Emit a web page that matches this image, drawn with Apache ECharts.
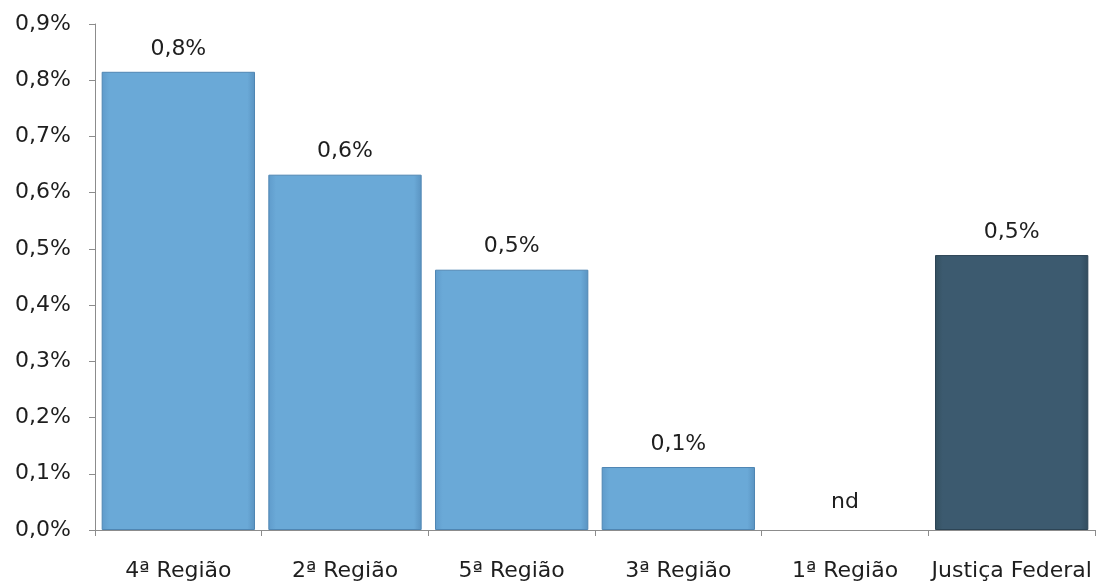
<!DOCTYPE html>
<html>
<head>
<meta charset="utf-8">
<script src="https://cdn.jsdelivr.net/npm/echarts@6/dist/echarts.min.js"></script>
<style>
  html, body { margin: 0; padding: 0; background: #fff; }
  #main { width: 1097px; height: 585px; }
</style>
</head>
<body>
<div id="main"></div>
<script>
const categories = ["4ª Região", "2ª Região", "5ª Região", "3ª Região", "1ª Região", "Justiça Federal"];
const values = [0.815, 0.632, 0.463, 0.112, null, 0.489];
const yTicks = [0, 0.1, 0.2, 0.3, 0.4, 0.5, 0.6, 0.7, 0.8, 0.9];

const fmt = v => v.toFixed(1).replace(".", ",") + "%";
const font = "DejaVu Sans";
const lightBar = new echarts.graphic.LinearGradient(0, 0, 1, 0, [
  { offset: 0, color: "#5f9bcb" },
  { offset: 0.05, color: "#6aa9d7" },
  { offset: 0.95, color: "#6aa9d7" },
  { offset: 1, color: "#5a93c1" },
]);
const darkBar = new echarts.graphic.LinearGradient(0, 0, 1, 0, [
  { offset: 0, color: "#34505f" },
  { offset: 0.05, color: "#3c5a6f" },
  { offset: 0.95, color: "#3c5a6f" },
  { offset: 1, color: "#324c5e" },
]);

const chart = echarts.init(document.getElementById("main"));
const option = {
  animation: false,
  grid: { left: 95, right: 2, top: 24, bottom: 55 },
  xAxis: {
    type: "category",
    data: categories,
    axisLine: { lineStyle: { color: "#8c8c8c" } },
    axisTick: { show: true, length: 6, lineStyle: { color: "#8c8c8c" } },
    axisLabel: { color: "#1e1e1e", fontSize: 22, fontFamily: font, margin: 30, interval: 0 },
  },
  yAxis: {
    type: "value",
    min: yTicks[0],
    max: yTicks[yTicks.length - 1],
    interval: 0.1,
    axisLine: { show: true, lineStyle: { color: "#8c8c8c" } },
    axisTick: { show: true, length: 6, lineStyle: { color: "#8c8c8c" } },
    splitLine: { show: false },
    axisLabel: { color: "#1e1e1e", fontSize: 22, fontFamily: font, margin: 24, formatter: fmt },
  },
  series: [
    {
      type: "bar",
      barCategoryGap: "8%",
      data: values.map((v, i) => ({
        value: v === null ? 0 : v,
        itemStyle: v === null
          ? { color: "transparent", borderWidth: 0 }
          : {
              color: i === values.length - 1 ? darkBar : lightBar,
              borderColor: i === values.length - 1 ? "#2c4455" : "#4f86b3",
              borderWidth: 1,
            },
        label: { formatter: v === null ? "nd" : fmt(v), distance: v === null ? 17 : 12 },
      })),
      label: {
        show: true,
        position: "top",
        color: "#1e1e1e",
        fontSize: 22,
        fontFamily: font,
      },
    },
  ],
};
chart.setOption(option);
</script>
</body>
</html>
